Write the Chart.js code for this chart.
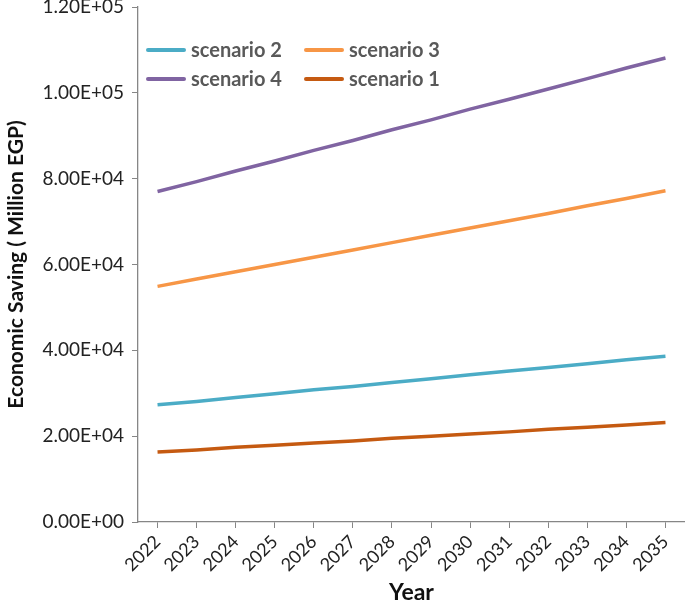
<!DOCTYPE html>
<html>
<head>
<meta charset="utf-8">
<script src="https://cdn.jsdelivr.net/npm/chart.js@4.4.0/dist/chart.umd.min.js"></script>
<style>
  html, body { margin: 0; padding: 0; background: #fff; }
  #wrap { width: 685px; height: 602px; position: relative; }
</style>
</head>
<body>
<div id="wrap"><canvas id="chart" width="685" height="602"></canvas></div>
<script>
// --- donnees ---
const years = ['2022', '2023', '2024', '2025', '2026', '2027', '2028', '2029', '2030', '2031', '2032', '2033', '2034', '2035'];
const scenario2 = [27300, 28100, 29000, 29900, 30800, 31600, 32500, 33400, 34300, 35200, 36000, 36900, 37800, 38600];
const scenario3 = [54900, 56600, 58300, 60000, 61700, 63400, 65100, 66800, 68500, 70200, 71900, 73700, 75400, 77200];
const scenario4 = [77000, 79300, 81800, 84100, 86600, 88900, 91400, 93700, 96200, 98500, 100900, 103300, 105800, 108100];
const scenario1 = [16300, 16800, 17400, 17900, 18400, 18900, 19500, 20000, 20500, 21000, 21600, 22100, 22600, 23200];
const yTicks = [0, 20000, 40000, 60000, 80000, 100000, 120000];

const FONT = "Lato, 'Liberation Sans', sans-serif";
const AXIS = '#868686';

// format Excel 1.20E+05
function sci(v) {
    if (v === 0) return '0.00E+00';
    const e = Math.floor(Math.log10(v));
    const m = v / Math.pow(10, e);
    return m.toFixed(2) + 'E+' + String(e).padStart(2, '0');
}

// legende dessinee dans la zone du graphe, 2 colonnes
const legendPlugin = {
    id: 'insideLegend',
    afterDatasetsDraw(chart) {
        const ctx = chart.ctx;
        const cols = [148, 306];
        const rows = [50, 79];
        ctx.save();
        ctx.font = "bold 20px " + FONT;
        ctx.fillStyle = '#595959';
        ctx.textBaseline = 'middle';
        chart.data.datasets.forEach((ds, i) => {
            const x = cols[i % 2];
            const y = rows[Math.floor(i / 2)];
            ctx.strokeStyle = ds.borderColor;
            ctx.lineWidth = 4;
            ctx.lineCap = 'round';
            ctx.beginPath();
            ctx.moveTo(x, y);
            ctx.lineTo(x + 36, y);
            ctx.stroke();
            ctx.fillText(ds.label, x + 43, y + 1);
        });
        ctx.restore();
    }
};

function serie(label, data, color) {
    return {
        label: label,
        data: data,
        borderColor: color,
        backgroundColor: color,
        borderWidth: 3.5,
        pointRadius: 0,
        tension: 0,
        fill: false
    };
}

new Chart(document.getElementById('chart'), {
    type: 'line',
    data: {
        labels: years,
        datasets: [
            serie('scenario 2', scenario2, '#4BACC6'),
            serie('scenario 3', scenario3, '#F79646'),
            serie('scenario 4', scenario4, '#8064A2'),
            serie('scenario 1', scenario1, '#C55A11')
        ]
    },
    options: {
        responsive: false,
        animation: false,
        layout: { padding: { top: 7, right: 0, left: 0, bottom: 0 } },
        plugins: {
            legend: { display: false },
            tooltip: { enabled: false }
        },
        scales: {
            x: {
                offset: true,
                grid: { drawOnChartArea: false, drawTicks: true, tickLength: 6, color: AXIS, offset: false },
                border: { color: AXIS, width: 1.3 },
                ticks: {
                    color: '#222',
                    font: { family: FONT, size: 18 },
                    maxRotation: 45,
                    minRotation: 45,
                    padding: 3,
                    autoSkip: false
                },
                title: {
                    display: true,
                    text: 'Year',
                    color: '#111',
                    font: { family: FONT, size: 23, weight: 'bold' },
                    padding: { top: 0, bottom: -4 }
                },
                afterFit(scale) { scale.height = 80; }
            },
            y: {
                min: 0,
                max: 120000,
                afterBuildTicks(scale) { scale.ticks = yTicks.map(v => ({ value: v })); },
                grid: { drawOnChartArea: false, drawTicks: true, tickLength: 6, color: AXIS },
                border: { color: AXIS, width: 1.3 },
                ticks: {
                    color: '#222',
                    font: { family: FONT, size: 19 },
                    padding: 8,
                    callback: v => sci(v)
                },
                title: {
                    display: true,
                    text: 'Economic Saving ( Million EGP)',
                    color: '#111',
                    font: { family: FONT, size: 21, weight: 'bold' },
                    padding: { top: 4, bottom: 2 }
                },
                afterFit(scale) {
                    scale.width = 138;
                    scale.paddingTop = 0; // pas de marge auto pour le label du haut
                }
            }
        }
    },
    plugins: [legendPlugin]
});
</script>
</body>
</html>
